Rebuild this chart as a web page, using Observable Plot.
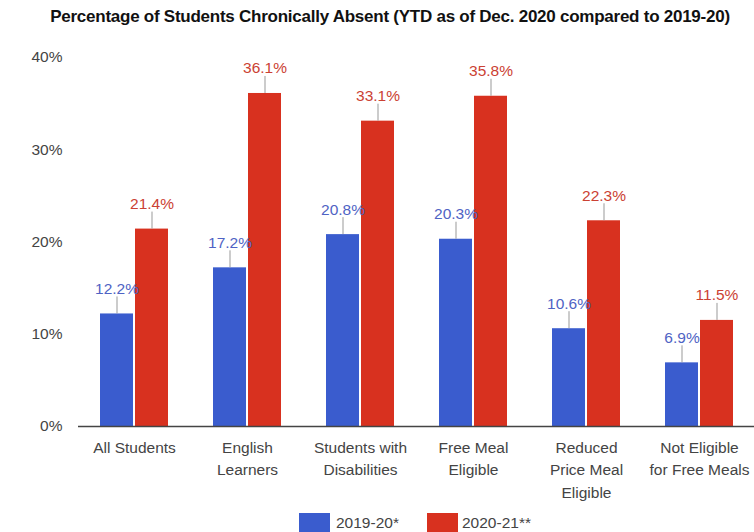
<!DOCTYPE html>
<html><head><meta charset="utf-8">
<script src="https://cdn.jsdelivr.net/npm/d3@7"></script>
<script src="https://cdn.jsdelivr.net/npm/@observablehq/plot@0.6"></script>
<style>
body{margin:0;background:#fff;font-family:"Liberation Sans",Arial,sans-serif;width:754px;height:532px;overflow:hidden;}
#title{height:34px;line-height:34px;text-align:center;padding-left:26px;font-family:"Liberation Sans",Arial,sans-serif;font-weight:bold;font-size:17px;letter-spacing:-0.25px;color:#111;white-space:nowrap;}
#chart svg{display:block;}
#legend{position:relative;height:24px;font-size:15.5px;color:#444;}
#legend .sw{position:absolute;top:5px;width:31px;height:20px;}
#legend .lb{position:absolute;top:6px;line-height:18px;}
</style>
</head><body>
<div id="title">Percentage of Students Chronically Absent (YTD as of Dec. 2020 compared to 2019-20)</div>
<div id="chart"></div>
<div id="legend"></div>
<script>
const categories = ["All Students","English Learners","Students with Disabilities","Free Meal Eligible","Reduced Price Meal Eligible","Not Eligible for Free Meals"];
const tickLabels = ["All Students","English\nLearners","Students with\nDisabilities","Free Meal\nEligible","Reduced\nPrice Meal\nEligible","Not Eligible\nfor Free Meals"];
const series = ["2019-20*","2020-21**"];
const values2019 = [12.2,17.2,20.8,20.3,10.6,6.9];
const values2020 = [21.4,36.1,33.1,35.8,22.3,11.5];
const yTicks = [0,10,20,30,40];

const BLUE = "#3a5cce", RED = "#d8311f";
const BLUE_TXT = "#4f63c4", RED_TXT = "#cb4133";

const rows = categories.map((c,i)=>({category:c, label:tickLabels[i], v19:values2019[i], v20:values2020[i]}));
const fmt = v => v.toFixed(1) + "%";

const chart = Plot.plot({
  width: 754, height: 474,
  marginLeft: 78, marginRight: 0, marginTop: 23, marginBottom: 82,
  style: {fontFamily: "Liberation Sans, Arial, sans-serif", fontSize: "15.5px", color: "#444", background: "#fff"},
  x: {domain: categories, paddingInner: 0.399, paddingOuter: 0.1855, axis: null},
  y: {domain: [0, 40], ticks: yTicks, tickFormat: d => d + "%", tickSize: 0, tickPadding: 16, label: null},
  marks: [
    Plot.barY(rows, {x: "category", y: "v19", fill: BLUE, insetRight: 35}),
    Plot.barY(rows, {x: "category", y: "v20", fill: RED, insetLeft: 35}),
    Plot.ruleY([0], {stroke: "#444", strokeWidth: 1.3}),
    Plot.ruleX(rows, {x: "category", y1: "v19", y2: "v19", dx: -17.5, insetTop: -17, insetBottom: 0, stroke: "#999"}),
    Plot.ruleX(rows, {x: "category", y1: "v20", y2: "v20", dx: 17.5, insetTop: -17, insetBottom: 0, stroke: "#999"}),
    Plot.text(rows, {x: "category", y: "v19", text: d => fmt(d.v19), dx: -17.5, dy: -25, fill: BLUE_TXT}),
    Plot.text(rows, {x: "category", y: "v20", text: d => fmt(d.v20), dx: 17.5, dy: -25, fill: RED_TXT}),
    Plot.text(rows, {x: "category", frameAnchor: "bottom", text: "label", lineAnchor: "top", dy: 10, lineHeight: 1.47, fill: "#444"})
  ]
});
document.getElementById("chart").appendChild(chart);

const legend = document.getElementById("legend");
const items = [{name: series[0], color: BLUE, sx: 299, tx: 336}, {name: series[1], color: RED, sx: 427, tx: 462}];
for (const it of items) {
  const s = document.createElement("div"); s.className = "sw"; s.style.left = it.sx + "px"; s.style.background = it.color; legend.appendChild(s);
  const t = document.createElement("div"); t.className = "lb"; t.style.left = it.tx + "px"; t.textContent = it.name; legend.appendChild(t);
}
</script>
</body></html>
